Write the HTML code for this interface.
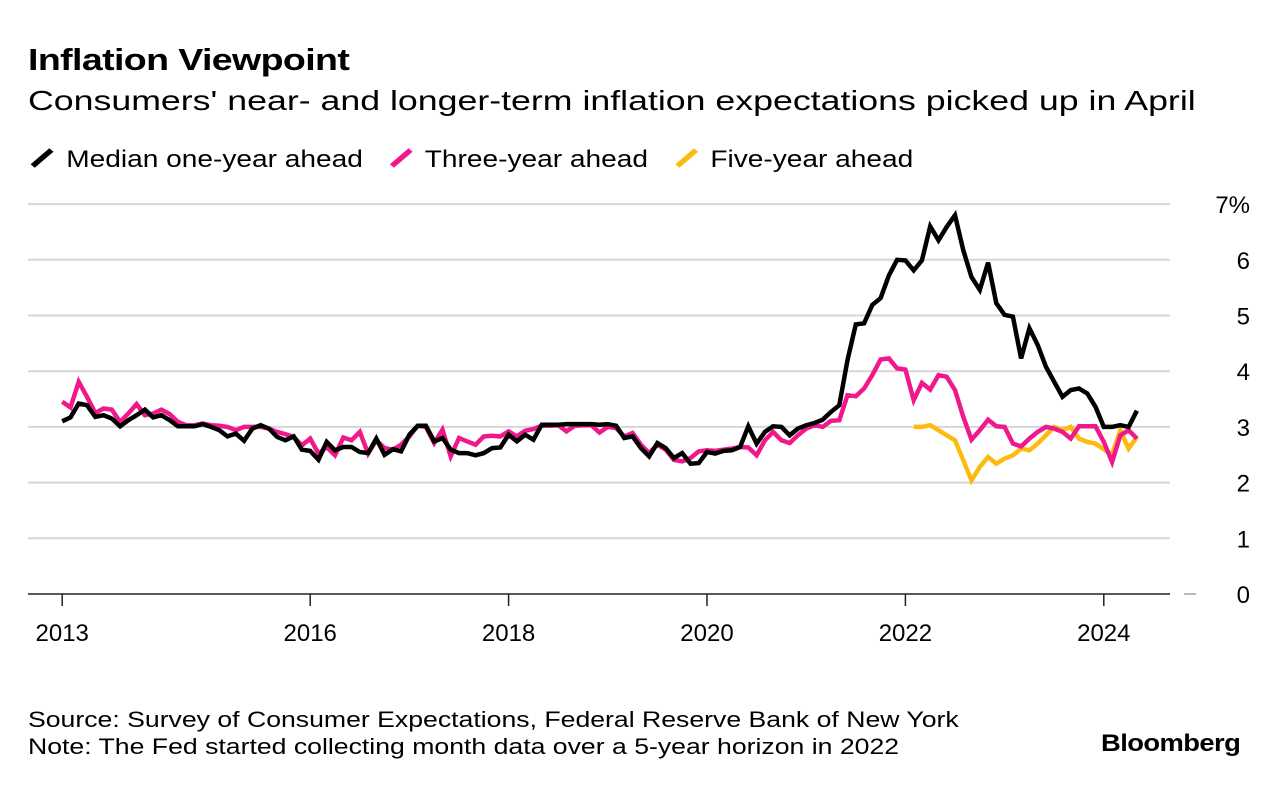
<!DOCTYPE html>
<html><head><meta charset="utf-8"><style>
body{margin:0;background:#fff;font-family:"Liberation Sans",sans-serif;color:#000}
#wrap{position:relative;width:1279px;height:788px;overflow:hidden}
.t{position:absolute;white-space:nowrap;transform-origin:0 0}
</style></head><body><div id="wrap">
<div class="t" style="left:28px;top:42px;font-size:31px;font-weight:bold;letter-spacing:-0.5px;transform:scaleX(1.21)">Inflation Viewpoint</div>
<div class="t" style="left:28px;top:85px;font-size:28px;transform:scaleX(1.275)">Consumers' near- and longer-term inflation expectations picked up in April</div>
<div class="t" style="left:28px;top:146px;font-size:24px;transform:scaleX(1.17)">
<span><svg width="26" height="24" style="vertical-align:-3px"><line x1="4" y1="20" x2="20" y2="4" stroke="#000" stroke-width="5"/></svg> Median one-year ahead</span>
<span style="margin-left:14px"><svg width="26" height="24" style="vertical-align:-3px"><line x1="4" y1="20" x2="20" y2="4" stroke="#f0198c" stroke-width="5"/></svg> Three-year ahead</span>
<span style="margin-left:14px"><svg width="26" height="24" style="vertical-align:-3px"><line x1="4" y1="20" x2="20" y2="4" stroke="#fdbb0f" stroke-width="5"/></svg> Five-year ahead</span>
</div>
<svg id="chart" width="1279" height="788" style="position:absolute;left:0;top:0"></svg>
<div class="t" style="left:28px;top:707px;font-size:22px;transform:scaleX(1.21)">Source: Survey of Consumer Expectations, Federal Reserve Bank of New York</div>
<div class="t" style="left:28px;top:734px;font-size:22px;transform:scaleX(1.21)">Note: The Fed started collecting month data over a 5-year horizon in 2022</div>
<div class="t" style="left:1101px;top:730px;font-size:24px;font-weight:bold;letter-spacing:-0.5px;transform:scaleX(1.14)">Bloomberg</div>
</div>
<script>
const startYear = 2013.5;
const oneYear = [3.10,3.17,3.42,3.39,3.18,3.21,3.15,3.01,3.12,3.21,3.31,3.17,3.21,3.12,3.01,3.01,3.01,3.05,3.0,2.94,2.83,2.88,2.75,2.97,3.03,2.97,2.82,2.76,2.83,2.59,2.57,2.41,2.73,2.58,2.64,2.64,2.55,2.53,2.79,
2.5,2.6,2.56,2.86,3.02,3.02,2.74,2.8,2.59,2.53,2.53,2.49,2.53,2.62,2.63,2.86,2.74,2.86,2.77,3.04,3.04,3.04,3.05,3.05,3.05,3.05,3.04,3.05,3.02,2.8,2.83,2.62,2.47,2.71,2.62,2.44,2.53,2.34,2.35,
2.55,2.52,2.57,2.58,2.64,3.01,2.7,2.91,3.01,3.0,2.85,2.97,3.03,3.07,3.13,3.27,3.39,4.2,4.84,4.86,5.19,5.31,5.72,6.0,5.99,5.81,5.99,6.6,6.35,6.59,6.8,6.17,5.69,5.46,5.95,5.22,5.01,4.98,4.23,4.77,4.47,4.08,3.81,3.54,3.66,3.69,3.6,3.36,3.0,3.0,3.03,3.0,3.29];
const threeYear = [3.45,3.35,3.81,3.54,3.25,3.33,3.31,3.09,3.24,3.41,3.21,3.24,3.31,3.23,3.09,3.03,3.03,3.06,3.03,3.02,3.0,2.94,3.0,3.0,3.0,2.97,2.91,2.87,2.82,2.67,2.79,2.52,2.64,2.49,2.81,2.76,2.91,2.52,2.76,
2.62,2.59,2.68,2.83,3.02,3.0,2.71,2.95,2.47,2.8,2.74,2.68,2.83,2.84,2.83,2.92,2.83,2.93,2.96,3.02,3.02,3.03,2.92,3.02,3.03,3.03,2.9,3.0,2.98,2.83,2.89,2.68,2.53,2.68,2.59,2.41,2.38,2.44,2.56,
2.58,2.57,2.59,2.61,2.64,2.63,2.49,2.76,2.91,2.76,2.71,2.85,2.97,3.03,3.0,3.11,3.12,3.57,3.55,3.69,3.93,4.21,4.23,4.05,4.03,3.48,3.79,3.67,3.93,3.9,3.66,3.18,2.77,2.94,3.13,3.01,3.0,2.7,2.65,2.79,2.91,3.0,2.97,2.91,2.79,3.01,3.01,3.01,2.73,2.37,2.85,2.94,2.79];
const fiveYearStartIndex = 103;
const fiveYear = [3.0,3.0,3.03,2.94,2.85,2.76,2.4,2.04,2.28,2.46,2.34,2.43,2.49,2.61,2.58,2.7,2.85,3.0,2.94,3.0,2.79,2.73,2.7,2.6,2.5,2.94,2.61,2.82];
const yTicks = [0,1,2,3,4,5,6,7];
const xTickYears = [2013.5,2016,2018,2020,2022,2024];
const xTickLabels = ["2013","2016","2018","2020","2022","2024"];

const svg = document.getElementById('chart');
const NS = 'http://www.w3.org/2000/svg';
function xs(t){return 707 + (t-2020)*99.2;}
function ys(v){return 594 - v*55.7;}
function mk(tag, attrs){const e=document.createElementNS(NS,tag);for(const k in attrs)e.setAttribute(k,attrs[k]);svg.appendChild(e);return e;}
yTicks.forEach(v=>{
  const g = mk('line',{x1:28,x2:1170,y1:ys(v),y2:ys(v),stroke:v===0?'#222':'#d6d6d6','stroke-width':v===0?1.5:2});
  
  
  const t = mk('text',{x:1250,y:ys(v)+9,'text-anchor':'end','font-size':24,'font-family':'Liberation Sans, sans-serif'});
  t.textContent = v===7 ? '7%' : String(v);
  
  
});
const dash = mk('line',{x1:1184,x2:1196,y1:ys(0),y2:ys(0),stroke:'#bbb','stroke-width':2});


xTickYears.forEach((yr,i)=>{
  const l = mk('line',{x1:xs(yr),x2:xs(yr),y1:594,y2:606,stroke:'#222','stroke-width':1.5});
  
  
  const t = mk('text',{x:xs(yr),y:641,'text-anchor':'middle','font-size':24,'font-family':'Liberation Sans, sans-serif'});
  t.textContent = xTickLabels[i];
  
  
});
function line(arr, start, color, name){
  const pts = arr.map((v,i)=>xs(startYear+(start+i)/12).toFixed(1)+','+ys(v).toFixed(1)).join(' ');
  const p = mk('polyline',{points:pts,fill:'none',stroke:color,'stroke-width':4.5,'stroke-linejoin':'miter','stroke-miterlimit':3});
  
  
}
line(fiveYear, fiveYearStartIndex, '#fdbb0f', 'five-year-ahead-line');
line(threeYear, 0, '#f0198c', 'three-year-ahead-line');
line(oneYear, 0, '#000', 'one-year-ahead-line');
</script></body></html>
